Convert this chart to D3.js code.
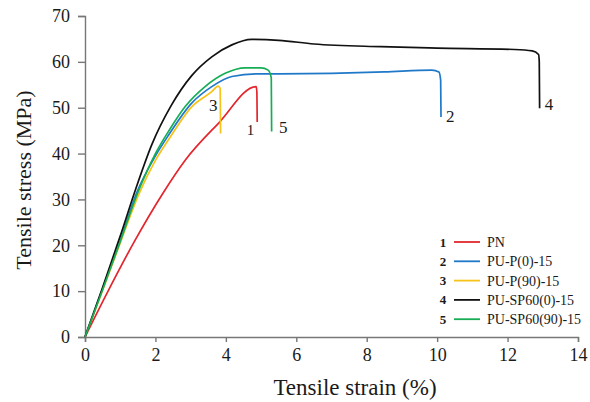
<!DOCTYPE html>
<html>
<head>
<meta charset="utf-8">
<script src="https://cdn.jsdelivr.net/npm/d3@7"></script>
<style>
body{margin:0;background:#fff;}
</style>
</head>
<body>
<div id="chart"></div>
<script>
// strain (%) / stress (MPa) pairs
var pn=[[0,0],[0.6,9.2],[1.4,20.8],[2.2,31.2],[2.84,38.5],[3.79,46.6],[4.86,54.6],[4.88,53.5],[4.89,46.9]];
var puP0=[[0,0],[0.5,10.5],[1,21],[1.47,31.5],[2,39.5],[2.37,44],[3.03,51],[3.6,54.6],[4.17,56.8],[4.92,57.4],[5.5,57.4],[7,57.5],[8.5,57.8],[9.85,58.2],[10.05,57.8],[10.1,56],[10.11,48]];
var puP90=[[0,0],[0.5,10.2],[1,20.5],[1.52,31],[2,38.5],[2.37,43],[3.03,50.2],[3.6,53.5],[3.78,54.7],[3.84,54.2],[3.85,44.4]];
var puSP0=[[0,0],[0.5,10.8],[1,22],[1.45,32.5],[1.9,42],[2.45,50.5],[3.03,57],[3.6,61.1],[4.17,63.7],[4.73,64.9],[5.5,64.7],[6.5,63.9],[8.4,63.3],[10,63],[12.2,62.7],[12.7,62.4],[12.88,61.6],[12.9,60],[12.91,49.9]];
var puSP90=[[0,0],[0.5,10.3],[1,20.8],[1.5,31.5],[2,40],[2.4,45.2],[2.84,50.2],[3.41,54.6],[3.98,57.5],[4.55,58.7],[5,58.7],[5.2,58.2],[5.29,56.5],[5.3,44.8]];

var seriesNames=["PN","PU-P(0)-15","PU-P(90)-15","PU-SP60(0)-15","PU-SP60(90)-15"];
var seriesData=[pn,puP0,puP90,puSP0,puSP90];
var seriesColors=["#e3262d","#1f78c8","#f7c21a","#111111","#17ad55"];
// end labels: number, strain, stress, font size
var endLabels=[[1,4.7,44.0,15],[2,10.37,46.9,17],[3,3.64,49.2,17],[4,13.18,49.5,17],[5,5.63,44.4,17]];

var xTicks=[0,2,4,6,8,10,12,14];
var yTicks=[0,10,20,30,40,50,60,70];

var font="'Liberation Serif','Times New Roman',serif";
var W=590,H=402;
var svg=d3.select("#chart").append("svg").attr("width",W).attr("height",H)
	.style("font-family",font);

var x=d3.scaleLinear().domain([0,14]).range([85,578]);
var y=d3.scaleLinear().domain([0,70]).range([337,16]);

var xAxis=svg.append("g").attr("transform","translate(0,"+y(0)+")")
	.call(d3.axisBottom(x).tickValues(xTicks).tickSize(5).tickPadding(6));
var yAxis=svg.append("g").attr("transform","translate("+x(0)+",0)")
	.call(d3.axisLeft(y).tickValues(yTicks).tickSize(7).tickPadding(8));
[xAxis,yAxis].forEach(function(a){
	a.attr("font-family",null);
	a.select(".domain").attr("stroke","#777").attr("stroke-width",1.4);
	a.selectAll(".tick line").attr("stroke","#777").attr("stroke-width",1.4);
	a.selectAll(".tick text").attr("font-size",18).attr("fill","#1a1a1a")
		.style("font-family",font);
});

var line=d3.line()
	.x(function(d){return x(d[0]);})
	.y(function(d){return y(d[1]);})
	.curve(d3.curveMonotoneX);

svg.selectAll("path.curve").data(seriesData).enter().append("path")
	.attr("class","curve")
	.attr("fill","none")
	.attr("stroke",function(d,i){return seriesColors[i];})
	.attr("stroke-width",1.7)
	.attr("stroke-linejoin","round")
	.attr("d",line);

svg.selectAll("text.endLabel").data(endLabels).enter().append("text")
	.attr("class","endLabel")
	.attr("text-anchor","middle")
	.attr("fill","#1a1a1a")
	.attr("font-size",function(d){return d[3];})
	.attr("x",function(d){return x(d[1]);})
	.attr("y",function(d){return y(d[2]);})
	.text(function(d){return d[0];});

// legend
var leg=svg.append("g").attr("transform","translate(443,242)");
var rows=leg.selectAll("g").data(seriesNames).enter().append("g")
	.attr("transform",function(d,i){return "translate(0,"+(i*19.3)+")";});
rows.append("text").attr("text-anchor","middle").attr("dy","0.35em")
	.attr("font-size",13).attr("font-weight","bold").attr("fill","#1a1a1a")
	.text(function(d,i){return i+1;});
rows.append("line").attr("x1",11).attr("x2",37).attr("y1",0).attr("y2",0)
	.attr("stroke",function(d,i){return seriesColors[i];}).attr("stroke-width",1.8);
rows.append("text").attr("x",44).attr("dy","0.35em").attr("font-size",14)
	.attr("fill","#1a1a1a")
	.text(function(d){return d;});

svg.append("text").attr("text-anchor","middle").attr("x",355).attr("y",395)
	.attr("font-size",23).attr("fill","#1a1a1a").text("Tensile strain (%)");
svg.append("text").attr("text-anchor","middle")
	.attr("transform","translate(31,180) rotate(-90)")
	.attr("font-size",22).attr("fill","#1a1a1a").text("Tensile stress (MPa)");
</script>
</body>
</html>
